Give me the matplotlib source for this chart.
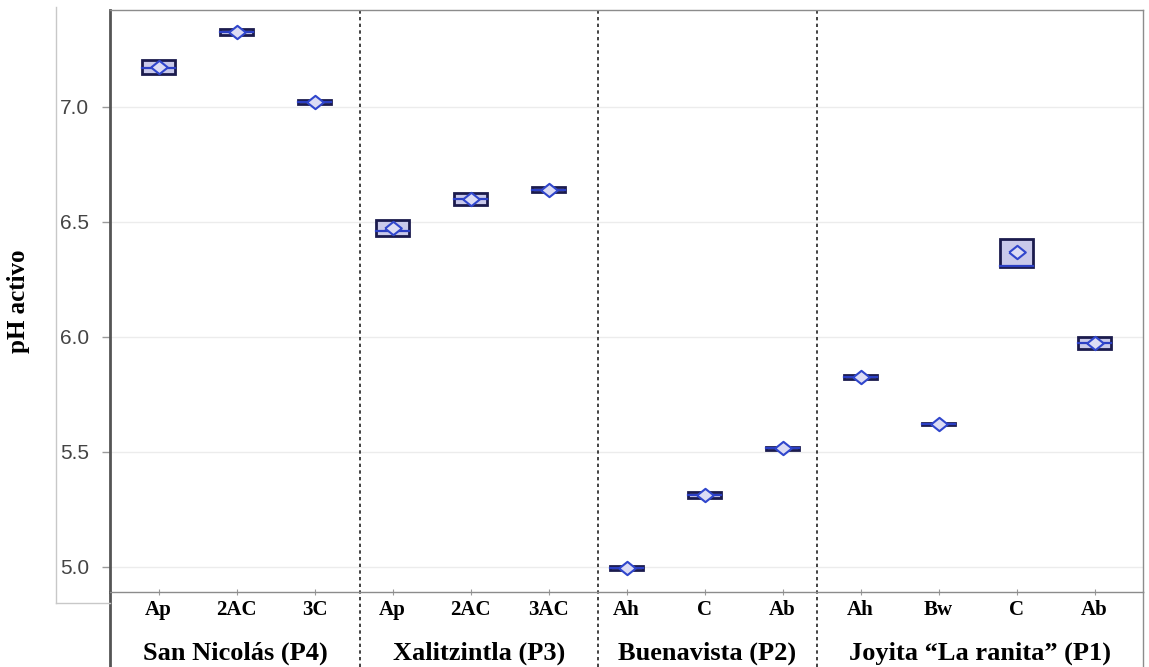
import matplotlib.pyplot as plt
import matplotlib.transforms as mtransforms
from matplotlib.path import Path
from matplotlib.lines import Line2D
import numpy as np

# horizons per profile, left to right
horizons = ["Ap", "2AC", "3C", "Ap", "2AC", "3AC", "Ah", "C", "Ab", "Ah", "Bw", "C", "Ab"]
sites = ["San Nicolás (P4)", "Xalitzintla (P3)", "Buenavista (P2)", "Joyita \u201cLa ranita\u201d (P1)"]

# pH summary per horizon
ph_mean = [7.174, 7.326, 7.022, 6.474, 6.600, 6.640, 4.995, 5.313, 5.515, 5.826, 5.620, 6.370, 5.974]
ph_q1 = [7.143, 7.315, 7.014, 6.439, 6.574, 6.630, 4.985, 5.300, 5.510, 5.818, 5.615, 6.304, 5.948]
ph_q3 = [7.204, 7.337, 7.030, 6.509, 6.626, 6.650, 5.005, 5.326, 5.520, 5.834, 5.625, 6.426, 6.000]
ph_med = [7.170, 7.326, 7.022, 6.460, 6.600, 6.640, 4.995, 5.313, 5.515, 5.826, 5.620, 6.310, 5.974]

W, H = 1149, 667
fig = plt.figure(figsize=(W / 100, H / 100), dpi=100)
ax = fig.add_axes([110 / W, 1 - 592 / H, (1143 - 110) / W, (592 - 10) / H])

x = np.arange(len(horizons))
bw = 0.42
for xi, lo, hi, md in zip(x, ph_q1, ph_q3, ph_med):
    ax.add_patch(plt.Rectangle((xi - bw / 2, lo), bw, hi - lo, facecolor="#c9c9ea",
                               edgecolor="#1b1b4d", lw=2.0, zorder=3))
    ax.plot([xi - bw / 2, xi + bw / 2], [md, md], color="#2b3fc4", lw=1.6, zorder=4)

diamond = Path([(-1, 0), (0, 0.8), (1, 0), (0, -0.8), (-1, 0)])
ax.plot(x, ph_mean, ls="none", marker=diamond, ms=12, mfc="#dcdcf4",
        mec="#3046cc", mew=1.5, zorder=5)

ax.set_xlim(-0.624, 12.62)
ax.set_ylim(4.891, 7.4217)
ax.set_yticks([5.0, 5.5, 6.0, 6.5, 7.0])
ax.set_yticklabels(["5.0", "5.5", "6.0", "6.5", "7.0"], fontsize=15, color="#444444",
                   family="Liberation Sans")
ax.yaxis.grid(True, color="#ececec", lw=1.0)
ax.set_axisbelow(True)
ax.tick_params(axis="y", length=6, width=1, color="#9a9a9a", pad=9)

ax.set_xticks(x)
ax.set_xticklabels(horizons, fontsize=15, fontweight="bold", family="Liberation Serif")
ax.tick_params(axis="x", length=5, direction="inout", color="#9a9a9a", pad=3)

for side in ["top", "right", "bottom"]:
    ax.spines[side].set_color("#8c8c8c")
    ax.spines[side].set_linewidth(1.0)
ax.spines["left"].set_color("#555555")
ax.spines["left"].set_linewidth(2.0)

ax.set_ylabel("pH activo", fontsize=18, fontweight="bold", family="Liberation Serif")
ax.yaxis.set_label_coords(-80 / (1143 - 110), 0.5)

# table part under the axis
trans = mtransforms.blended_transform_factory(ax.transData, ax.transAxes)
ybot = (592 - H) / (592 - 10)
bounds = [2.58, 5.63, 8.44]
for b in bounds:
    ax.add_line(Line2D([b, b], [ybot, 1], transform=trans, color="#222222",
                       lw=1.2, ls=(0, (2, 2)), clip_on=False))
ax.add_line(Line2D([0, 0], [ybot, 0], transform=ax.transAxes, color="#555555",
                   lw=2.0, clip_on=False))
ax.add_line(Line2D([1, 1], [ybot, 0], transform=ax.transAxes, color="#8c8c8c",
                   lw=1.0, clip_on=False))

edges = [-0.624] + bounds + [12.62]
for i, name in enumerate(sites):
    xc = (edges[i] + edges[i + 1]) / 2
    ax.text(xc, (592 - 653) / (592 - 10), name, transform=trans, ha="center", va="center",
            fontsize=19, fontweight="bold", family="Liberation Serif")

# light frame round the value labels
fig.add_artist(Line2D([56 / W, 56 / W], [1 - 7 / H, 1 - 603 / H], color="#c8c8c8", lw=1.0))
fig.add_artist(Line2D([56 / W, 110 / W], [1 - 603 / H, 1 - 603 / H], color="#c8c8c8", lw=1.0))

fig.savefig("out.png", dpi=100)
